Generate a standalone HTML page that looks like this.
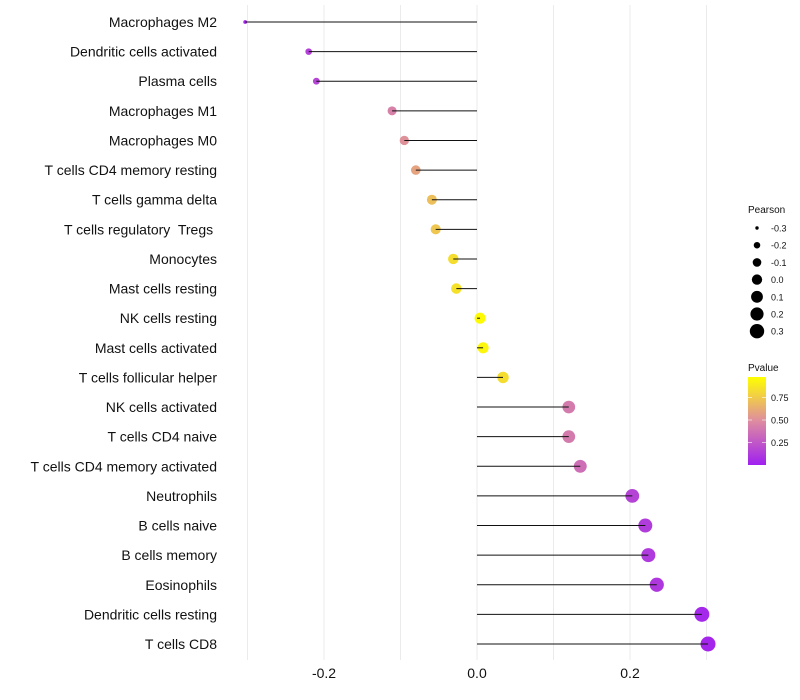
<!DOCTYPE html>
<html><head><meta charset="utf-8"><style>
body{margin:0;background:#fff;font-family:"Liberation Sans",sans-serif;}
svg{display:block}
text{white-space:pre}
</style></head><body>
<svg id="chart" width="800" height="700"></svg>
<script>
const categories=["Macrophages M2","Dendritic cells activated","Plasma cells","Macrophages M1","Macrophages M0","T cells CD4 memory resting","T cells gamma delta","T cells regulatory  Tregs ","Monocytes","Mast cells resting","NK cells resting","Mast cells activated","T cells follicular helper","NK cells activated","T cells CD4 naive","T cells CD4 memory activated","Neutrophils","B cells naive","B cells memory","Eosinophils","Dendritic cells resting","T cells CD8"];
const pearson=[-0.303,-0.220,-0.210,-0.111,-0.095,-0.080,-0.059,-0.054,-0.031,-0.027,0.004,0.008,0.034,0.120,0.120,0.135,0.203,0.220,0.224,0.235,0.294,0.302];
const pvalue=[0.05,0.15,0.17,0.45,0.52,0.6,0.72,0.75,0.85,0.87,0.98,0.96,0.85,0.42,0.42,0.36,0.16,0.13,0.12,0.11,0.04,0.03];
const xTicks=[-0.2,0.0,0.2];
const xTickLabels=["-0.2","0.0","0.2"];
const sizeLegend=[-0.3,-0.2,-0.1,0.0,0.1,0.2,0.3];
const pTicks=[0.25,0.5,0.75];

const svg=document.getElementById('chart');
const NS='http://www.w3.org/2000/svg';
function mk(t,a,p){const e=document.createElementNS(NS,t);for(const k in a)e.setAttribute(k,a[k]);(p||svg).appendChild(e);return e;}
const xs=v=>477+v*765;
const ys=i=>22+i*(622/(categories.length-1));
const rs=v=>Math.sqrt(Math.max(2,30+86.7*v));
function col(p){
  const stops=[[0,[160,32,240]],[0.5,[222,140,160]],[1,[255,255,0]]];
  p=Math.max(0,Math.min(1,p));
  let a=stops[0],b=stops[1];if(p>0.5){a=stops[1];b=stops[2];}
  const t=(p-a[0])/(b[0]-a[0]);
  return 'rgb('+a[1].map((c,k)=>Math.round(c+(b[1][k]-c)*t)).join(',')+')';
}
[-0.3,-0.2,-0.1,0,0.1,0.2,0.3].forEach(v=>{
  const g=mk('line',{x1:xs(v),x2:xs(v),y1:5,y2:660,stroke:'#ebebeb','stroke-width':1});
  
  
});
xTicks.forEach((v,i)=>{
  const t=mk('text',{x:xs(v),y:678,'text-anchor':'middle','font-size':14,fill:'#111'});
  t.textContent=xTickLabels[i];
  
  
});
categories.forEach((c,i)=>{
  const y=ys(i);
  const l=mk('text',{x:217,y:y+5,'text-anchor':'end','font-size':14,fill:'#111'});
  l.textContent=c;
  
  
  const d=mk('circle',{cx:xs(pearson[i]),cy:y,r:rs(pearson[i]),fill:col(pvalue[i])});
  
  
  const s=mk('line',{x1:xs(0),x2:xs(pearson[i]),y1:y,y2:y,stroke:'#111','stroke-width':1});
  
  
});
const st=mk('text',{x:748,y:213,'font-size':10,fill:'#111'});st.textContent='Pearson';


sizeLegend.forEach((v,i)=>{
  const y=228+i*17.2;
  const c=mk('circle',{cx:757,cy:y,r:rs(v)-0.3,fill:'#000'});
  
  
  const t=mk('text',{x:771,y:y+3.5,'font-size':9,fill:'#111'});t.textContent=v.toFixed(1);
  
  
});
const ct=mk('text',{x:748,y:371,'font-size':10,fill:'#111'});ct.textContent='Pvalue';


const defs=mk('defs',{});
const lg=mk('linearGradient',{id:'pg',x1:0,y1:1,x2:0,y2:0},defs);
[0,0.25,0.5,0.75,1].forEach(o=>mk('stop',{offset:o,'stop-color':col(o)},lg));
const bar=mk('rect',{x:748,y:377,width:18,height:88,fill:'url(#pg)'});


pTicks.forEach(v=>{
  const y=465-v*90;
  mk('line',{x1:748,x2:752,y1:y,y2:y,stroke:'#fff','stroke-width':0.6});
  mk('line',{x1:762,x2:766,y1:y,y2:y,stroke:'#fff','stroke-width':0.6});
  const t=mk('text',{x:771,y:y+3.5,'font-size':9,fill:'#111'});t.textContent=v.toFixed(2);
  
  
});
</script>
</body></html>
